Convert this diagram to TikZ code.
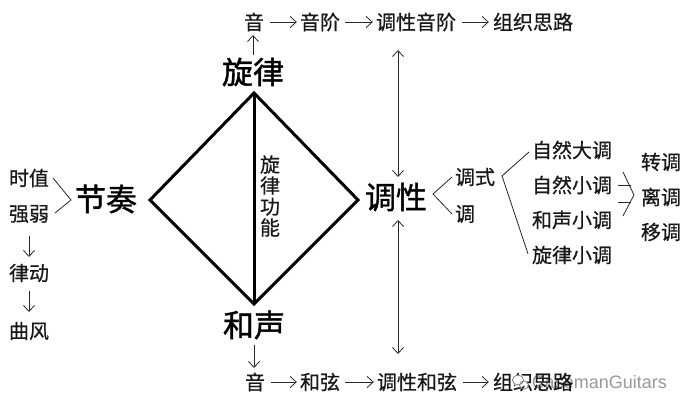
\documentclass[tikz,border=0pt]{standalone}
\usepackage{fontspec}
\setmainfont{Noto Sans CJK SC}
\newfontfamily\cjktxt[FakeBold=0.6]{Noto Sans CJK SC}
\newfontfamily\cjkbig[FakeBold=1.2]{Noto Sans CJK SC}
\newfontfamily\wmfont{Liberation Sans}
\usetikzlibrary{arrows.meta}
\tikzset{
 txt/.style={inner sep=0pt,font=\cjktxt\fontsize{20}{20}\selectfont,text=black!90},
 big/.style={inner sep=0pt,font=\cjkbig\fontsize{31}{31}\selectfont,text=black},
 lnk/.style={draw=black!85,line width=0.8pt},
 arr/.style={lnk,-{Straight Barb[length=6pt,width=11pt,line width=0.8pt]}},
 dbl/.style={lnk,{Straight Barb[length=6pt,width=11pt,line width=0.8pt]}-{Straight Barb[length=6pt,width=11pt,line width=0.8pt]}},
 heavy/.style={draw=black,line width=3pt,line join=miter},
 wmark/.style={inner sep=0pt,font=\wmfont\fontsize{18}{18}\selectfont,text=black!40}
}
\begin{document}
\begin{tikzpicture}[x=1pt,y=-1pt]
\useasboundingbox (0,0) rectangle (688,409);
% main nodes
\node[big] (xl) at (253,72) {旋律};
\node[big] (jz) at (106,199) {节奏};
\node[big] (dx) at (396,197) {调性};
\node[big] (hs) at (254,325) {和声};
\coordinate (T) at (254,93);
\coordinate (L) at (150,200);
\coordinate (R) at (358,200);
\coordinate (B) at (254,304);
\draw[heavy] (T) -- (R) -- (B) -- (L) -- cycle;
\draw[heavy] (T) -- (B);
\node[txt,align=center,font=\cjktxt\fontsize{20}{21}\selectfont] (gn) at (270,196) {旋\\律\\功\\能};
% top row
\node[txt] (a1) at (254,22) {音};
\node[txt] (a2) at (320,22) {音阶};
\node[txt] (a3) at (416,22) {调性音阶};
\node[txt] (a4) at (533,22) {组织思路};
\draw[arr] ([xshift=6pt]a1.east) -- ([xshift=-3pt]a2.west);
\draw[arr] ([xshift=5pt]a2.east) -- ([xshift=-3pt]a3.west);
\draw[arr] ([xshift=6pt]a3.east) -- ([xshift=-4pt]a4.west);
\draw[arr] (253,55) -- (253,35);
% bottom row
\node[txt] (b1) at (255,382) {音};
\node[txt] (b2) at (320,382) {和弦};
\node[txt] (b3) at (417,382) {调性和弦};
\node[wmark,anchor=east] (wm) at (667,382) {CasemanGuitars};
\node[txt] (b4) at (533,382) {组织思路};
\draw[arr] ([xshift=6pt]b1.east) -- ([xshift=-3pt]b2.west);
\draw[arr] ([xshift=5pt]b2.east) -- ([xshift=-3pt]b3.west);
\draw[arr] ([xshift=6pt]b3.east) -- ([xshift=-4pt]b4.west);
\draw[arr] (254,345) -- (254,368);
% tonal arrows
\coordinate (u1) at (398,50);
\coordinate (u2) at (398,177);
\coordinate (d1) at (398,220);
\coordinate (d2) at (398,354);
\draw[dbl] (u1) -- (u2);
\draw[dbl] (d1) -- (d2);
% left
\node[txt] (sz) at (29,178) {时值};
\node[txt] (qr) at (29,214) {强弱};
\node[txt] (ld) at (29,273) {律动};
\node[txt] (qf) at (29,331) {曲风};
\coordinate (lv) at (71,200);
\draw[lnk] (53,178) -- (lv) -- (55,213);
\draw[arr] (29,236) -- (29,257);
\draw[arr] (29,291) -- (29,312);
% right
\node[txt] (ds) at (475,177) {调式};
\node[txt] (dd) at (465,214) {调};
\coordinate (r1) at (433,194);
\draw[lnk] (452,177) -- (r1) -- (452,214);
\node[txt] (m1) at (572,150) {自然大调};
\node[txt] (m2) at (572,185) {自然小调};
\node[txt] (m3) at (572,220) {和声小调};
\node[txt] (m4) at (572,255) {旋律小调};
\coordinate (r2) at (502,176);
\draw[lnk] (529,152) -- (r2) -- (528,254);
\node[txt] (z1) at (661,162) {转调};
\node[txt] (z2) at (661,197) {离调};
\node[txt] (z3) at (661,232) {移调};
\coordinate (r3) at (634,195);
\draw[lnk] (623,172) -- (r3) -- (623,216);
\draw[lnk] (618,185) -- (631,185);
\draw[lnk] (618,202) -- (631,202);
% watermark icon
\fill[white] (520,381) ellipse (7pt and 6pt);
\draw[black!55,line width=0.7pt] (518,380) ellipse (5.5pt and 5pt);
\draw[black!55,line width=0.7pt] (524,385) ellipse (4.5pt and 4pt);
\end{tikzpicture}
\end{document}
